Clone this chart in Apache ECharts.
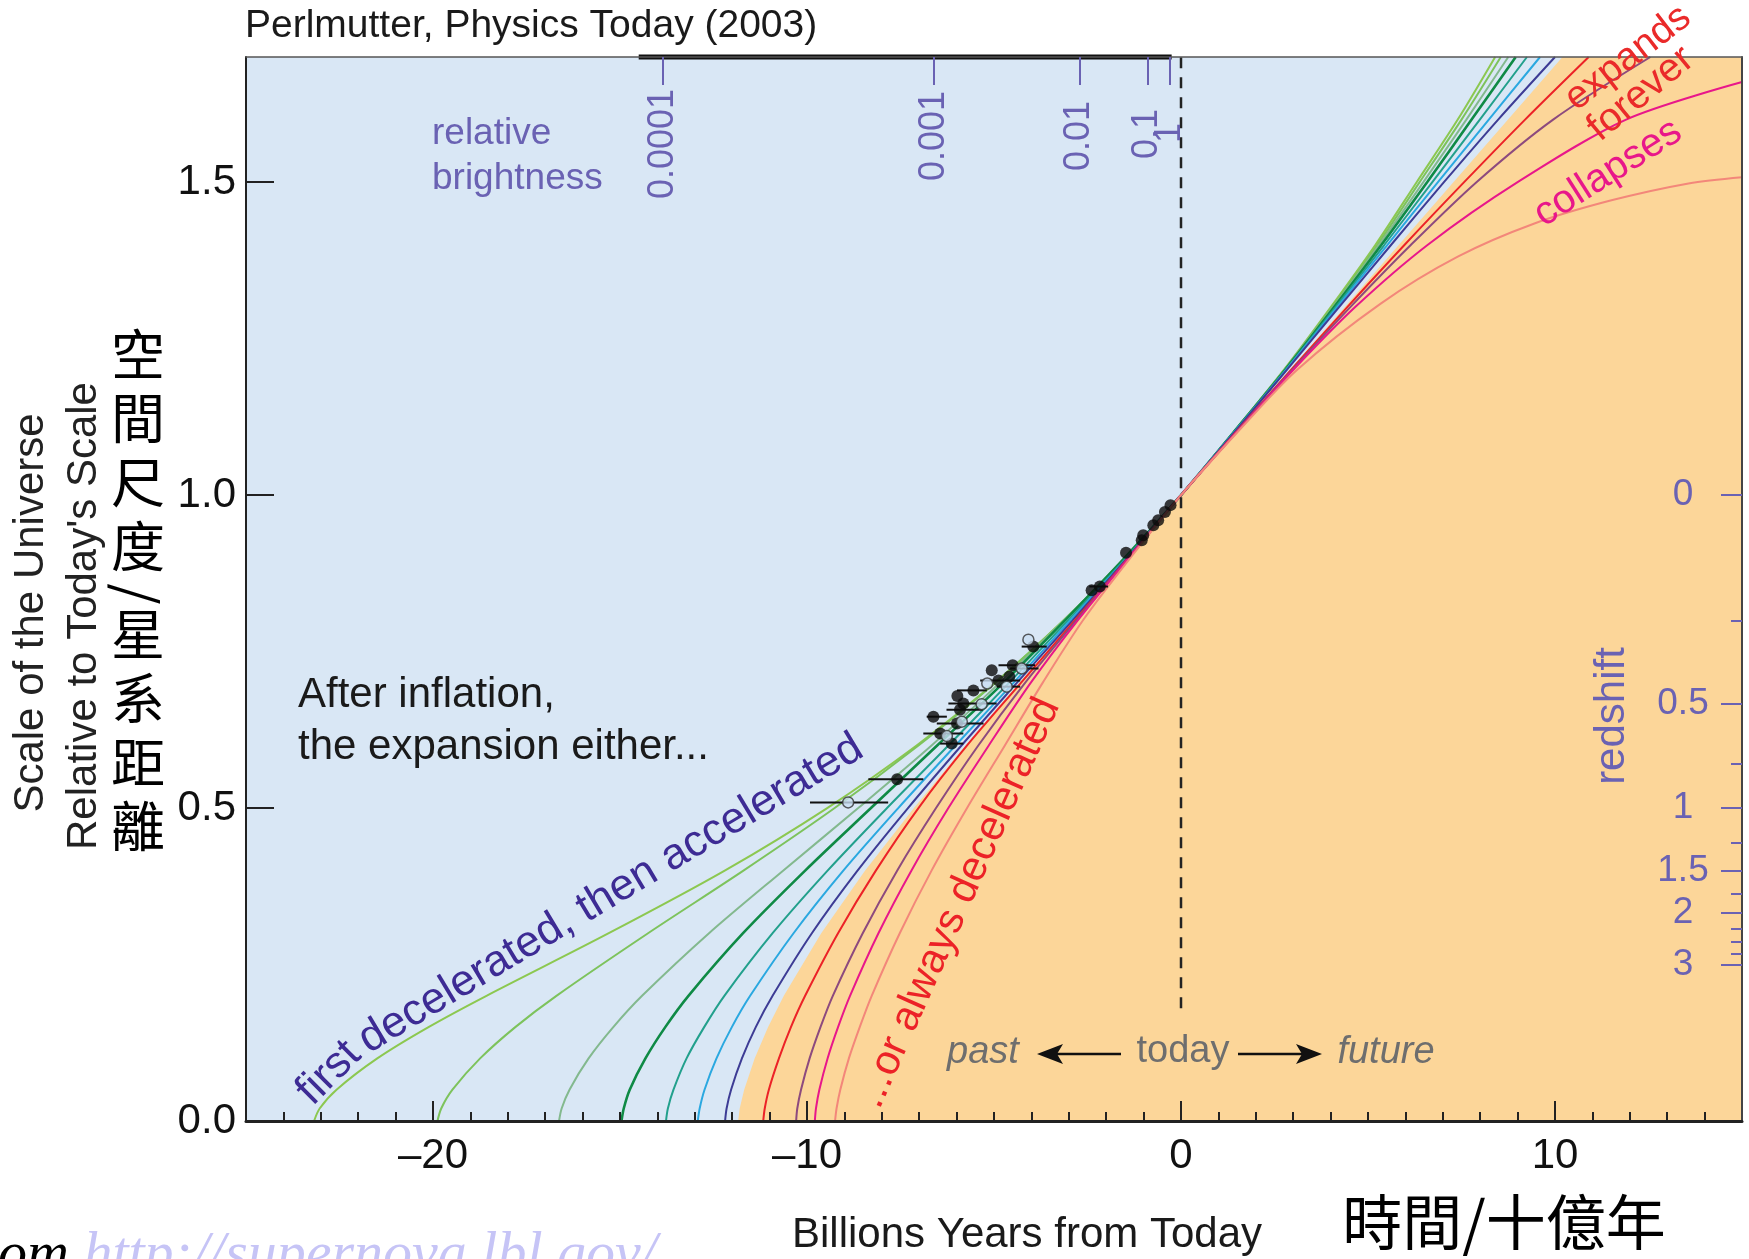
<!DOCTYPE html>
<html><head><meta charset="utf-8">
<script src="https://cdn.jsdelivr.net/npm/echarts@6.0.0/dist/echarts.min.js"></script>
<style>html,body{margin:0;padding:0;background:#fff}#c{width:1749px;height:1259px}</style>
</head><body><div id="c"></div>
<script>
// ---------- axis ticks / labels ----------
const xMajorTicks = [-20, -10, 0, 10];
const xMinorTicks = [-24,-23,-22,-21,-19,-18,-17,-16,-15,-14,-13,-12,-11,-9,-8,-7,-6,-5,-4,-3,-2,-1,1,2,3,4,5,6,7,8,9,11,12,13,14];
const yLabelTicks = [0, 0.5, 1.0, 1.5];
const yTickMarks = [0.5, 1.0, 1.5];
const brightnessLabels = ['0.0001', '0.001', '0.01', '0.1', '1'];
const brightnessTimes = [-13.85, -6.6, -2.72, -0.9, -0.3];
const redshiftMajor = [0, 0.5, 1, 1.5, 2, 3];
const redshiftMinor = [0.25, 0.75, 1.25, 1.75, 2.25, 2.5, 2.75];
const todayX = 0;
const todayLineY = [0.18, 1.7];
const topBarX = [-14.5, -0.25];

// ---------- expansion histories [years from today (Gyr), scale] ----------
const curveFirst = [[-23.18,0],[-23.03,0.02],[-22.58,0.05],[-21.49,0.1],[-20.12,0.15],[-18.57,0.2],[-15.30,0.3],[-12.20,0.4],[-9.46,0.5],[-7.07,0.6],[-4.98,0.7],[-3.13,0.8],[-1.48,0.9],[0,1],[1.40,1.1],[2.75,1.2],[4.00,1.3],[5.20,1.4],[6.30,1.5],[7.40,1.6],[8.40,1.7]];
const curveGreen = [[-19.88,0],[-19.78,0.02],[-19.48,0.05],[-18.74,0.1],[-17.80,0.15],[-16.70,0.2],[-14.25,0.3],[-11.70,0.4],[-9.26,0.5],[-7.02,0.6],[-4.97,0.7],[-3.14,0.8],[-1.49,0.9],[0,1],[1.40,1.1],[2.76,1.2],[4.03,1.3],[5.25,1.4],[6.38,1.5],[7.50,1.6],[8.55,1.7]];
const curvePale = [[-16.63,0],[-16.56,0.02],[-16.35,0.05],[-15.84,0.1],[-15.18,0.15],[-14.41,0.2],[-12.62,0.3],[-10.64,0.4],[-8.63,0.5],[-6.67,0.6],[-4.85,0.7],[-3.12,0.8],[-1.50,0.9],[0,1],[1.40,1.1],[2.77,1.2],[4.06,1.3],[5.30,1.4],[6.48,1.5],[7.63,1.6],[8.75,1.7]];
const curveDarkGreen = [[-14.96,0],[-14.90,0.02],[-14.74,0.05],[-14.32,0.1],[-13.79,0.15],[-13.17,0.2],[-11.71,0.3],[-10.05,0.4],[-8.29,0.5],[-6.52,0.6],[-4.75,0.7],[-3.10,0.8],[-1.50,0.9],[0,1],[1.40,1.1],[2.78,1.2],[4.09,1.3],[5.36,1.4],[6.58,1.5],[7.77,1.6],[8.95,1.7]];
const curveTeal = [[-13.77,0],[-13.72,0.02],[-13.57,0.05],[-13.22,0.1],[-12.75,0.15],[-12.21,0.2],[-10.92,0.3],[-9.45,0.4],[-7.86,0.5],[-6.22,0.6],[-4.60,0.7],[-3.02,0.8],[-1.46,0.9],[0,1],[1.41,1.1],[2.80,1.2],[4.13,1.3],[5.44,1.4],[6.72,1.5],[7.99,1.6],[9.25,1.7]];
const curveCyan = [[-12.92,0],[-12.87,0.02],[-12.74,0.05],[-12.42,0.1],[-12.01,0.15],[-11.52,0.2],[-10.36,0.3],[-9.03,0.4],[-7.56,0.5],[-6.03,0.6],[-4.48,0.7],[-2.96,0.8],[-1.44,0.9],[0,1],[1.41,1.1],[2.81,1.2],[4.17,1.3],[5.52,1.4],[6.87,1.5],[8.23,1.6],[9.60,1.7]];
const curveNavy = [[-12.19,0],[-12.15,0.02],[-12.03,0.05],[-11.74,0.1],[-11.37,0.15],[-10.92,0.2],[-9.87,0.3],[-8.65,0.4],[-7.30,0.5],[-5.87,0.6],[-4.39,0.7],[-2.90,0.8],[-1.43,0.9],[0,1],[1.42,1.1],[2.83,1.2],[4.22,1.3],[5.62,1.4],[7.03,1.5],[8.48,1.6],[10.0,1.7]];
const curveRed = [[-11.17,0],[-11.13,0.02],[-11.02,0.05],[-10.75,0.1],[-10.43,0.15],[-10.05,0.2],[-9.17,0.3],[-8.16,0.4],[-7.02,0.5],[-5.72,0.6],[-4.28,0.7],[-2.84,0.8],[-1.41,0.9],[0,1],[1.46,1.1],[2.94,1.2],[4.44,1.3],[5.98,1.4],[7.57,1.5],[9.20,1.6],[10.90,1.7]];
const curvePurple = [[-10.29,0],[-10.26,0.02],[-10.16,0.05],[-9.93,0.1],[-9.64,0.15],[-9.31,0.2],[-8.51,0.3],[-7.59,0.4],[-6.55,0.5],[-5.42,0.6],[-4.17,0.7],[-2.80,0.8],[-1.40,0.9],[0,1],[1.47,1.1],[2.97,1.2],[4.52,1.3],[6.15,1.4],[7.90,1.5],[9.95,1.6],[12.55,1.7]];
const curveMagenta = [[-9.79,0],[-9.76,0.02],[-9.67,0.05],[-9.45,0.1],[-9.17,0.15],[-8.85,0.2],[-8.09,0.3],[-7.21,0.4],[-6.22,0.5],[-5.14,0.6],[-4.02,0.7],[-2.76,0.8],[-1.39,0.9],[0,1],[1.48,1.1],[3.00,1.2],[4.65,1.3],[6.60,1.4],[9.00,1.5],[11.90,1.6],[15.0,1.66]];
const curveSalmon = [[-9.25,0],[-9.21,0.02],[-9.11,0.05],[-8.88,0.1],[-8.59,0.15],[-8.27,0.2],[-7.52,0.3],[-6.67,0.4],[-5.72,0.5],[-4.71,0.6],[-3.70,0.7],[-2.62,0.8],[-1.35,0.9],[0,1],[1.50,1.1],[3.10,1.2],[5.34,1.306],[7.40,1.381],[9.45,1.434],[11.51,1.471],[13.57,1.498],[15.0,1.508]];
const boundary = [[-11.84,0],[-11.80,0.02],[-11.68,0.05],[-11.40,0.1],[-11.04,0.15],[-10.62,0.2],[-9.62,0.3],[-8.45,0.4],[-7.14,0.5],[-5.76,0.6],[-4.33,0.7],[-2.87,0.8],[-1.42,0.9],[0,1],[10.2,1.7],[15,1.7]];

// ---------- supernovae [x, scale, xLow, xHigh] ----------
const snFilled = [[-0.28,0.984,-0.28,-0.28],[-0.43,0.973,-0.43,-0.43],[-0.61,0.960,-0.61,-0.61],[-0.74,0.952,-0.74,-0.74],[-1.01,0.936,-1.01,-1.01],[-1.05,0.928,-1.05,-1.05],[-1.47,0.908,-1.47,-1.47],[-2.17,0.854,-2.45,-1.95],[-2.39,0.848,-2.39,-2.39],[-3.95,0.758,-4.26,-3.59],[-4.50,0.728,-4.88,-3.90],[-5.06,0.720,-5.06,-5.06],[-4.88,0.704,-5.37,-4.30],[-4.59,0.710,-4.59,-4.59],[-5.55,0.688,-5.99,-5.19],[-5.98,0.679,-5.98,-5.98],[-5.82,0.667,-6.22,-4.93],[-5.91,0.657,-6.27,-5.30],[-6.62,0.646,-6.80,-6.26],[-5.99,0.635,-6.53,-5.28],[-6.44,0.619,-6.89,-5.82],[-6.13,0.603,-6.44,-5.82],[-7.59,0.546,-8.36,-6.89]];
const snOpen = [[-4.08,0.769,-4.08,-4.08],[-4.26,0.723,-4.57,-3.81],[-5.18,0.699,-5.18,-5.18],[-4.66,0.694,-4.93,-4.30],[-5.33,0.666,-5.33,-5.33],[-5.86,0.638,-5.86,-5.86],[-6.26,0.615,-6.26,-6.26],[-8.90,0.509,-9.92,-7.83]];

const FONT = "'Liberation Sans', Arial, Helvetica, sans-serif";
const PURPLE = '#6a62b3';

const curves = [
  {d: curveFirst, c: '#8cc850', w: 2},
  {d: curveGreen, c: '#7dc35c', w: 2},
  {d: curvePale, c: '#83b98e', w: 2},
  {d: curveDarkGreen, c: '#0f8a45', w: 2.6},
  {d: curveTeal, c: '#22a08c', w: 2},
  {d: curveCyan, c: '#2aa8e0', w: 2},
  {d: curveNavy, c: '#3d3c95', w: 2},
  {d: curveRed, c: '#ec2227', w: 2},
  {d: curvePurple, c: '#8d4a7e', w: 2},
  {d: curveMagenta, c: '#e8178a', w: 2},
  {d: curveSalmon, c: '#f3877a', w: 2}
];

const chart = echarts.init(document.getElementById('c'), null, {renderer: 'canvas', width: 1749, height: 1259});

const series = [];
series.push({type: 'line', data: boundary, symbol: 'none', lineStyle: {width: 0}, areaStyle: {color: '#fcd699', opacity: 1, origin: 'start'}, z: 1, silent: true});
curves.forEach(cv => series.push({type: 'line', data: cv.d, symbol: 'none', smooth: 0.3, lineStyle: {color: cv.c, width: cv.w}, z: 3, silent: true}));
series.push({type: 'line', data: [[todayX, todayLineY[0]], [todayX, todayLineY[1]]], symbol: 'none', lineStyle: {color: '#222', width: 2.5, type: [11, 9]}, z: 4});
series.push({type: 'line', data: [[topBarX[0], 1.7], [topBarX[1], 1.7]], symbol: 'none', clip: false, lineStyle: {color: '#111', width: 5}, z: 8});
series.push({type: 'custom', data: snFilled.concat(snOpen), z: 5, encode: {x: 0, y: 1},
  renderItem: function (params, api) {
    const y = api.value(1);
    const p1 = api.coord([api.value(2), y]);
    const p2 = api.coord([api.value(3), y]);
    return {type: 'line', shape: {x1: p1[0], y1: p1[1], x2: p2[0], y2: p2[1]}, style: {stroke: '#111', lineWidth: 2}};
  }});
series.push({type: 'scatter', data: snFilled.map(p => [p[0], p[1]]), symbolSize: 12, itemStyle: {color: '#0a0a0a'}, z: 6});
series.push({type: 'scatter', data: snOpen.map(p => [p[0], p[1]]), symbolSize: 11, itemStyle: {color: '#c9def2', borderColor: '#333', borderWidth: 1.5}, z: 6});

function zOf(v) { let best = 0, bd = 1e9; redshiftMajor.forEach(z => { const d = Math.abs(1 / (1 + z) - v); if (d < bd) { bd = d; best = z; } }); return best; }

function txt(text, x, y, opt) {
  return {type: 'text', x: x, y: y, rotation: (opt.rot || 0) * Math.PI / 180, z: 100,
    style: {text: text, fill: opt.color || '#111', font: (opt.style || 'normal') + ' ' + (opt.size || 42) + 'px ' + (opt.family || FONT),
      align: opt.align || 'left', verticalAlign: 'middle'}};
}

const graphics = [
  txt('Perlmutter, Physics Today (2003)', 245, 26, {size: 39, color: '#1a1a1a'}),
  txt('relative', 432, 134, {size: 37, color: PURPLE}),
  txt('brightness', 432, 179, {size: 37, color: PURPLE}),
  txt('After inflation,', 298, 695, {size: 42, color: '#1a1a1a'}),
  txt('the expansion either...', 298, 747, {size: 42, color: '#1a1a1a'}),
  txt('first', 329, 1073, {size: 44, color: '#3d2b94', rot: 45, align: 'center'}),
  txt('decelerated, then accelerated', 611, 894, {size: 44, color: '#3d2b94', rot: 31, align: 'center'}),
  txt('...or always decelerated', 959, 903, {size: 42, color: '#ec2227', rot: 66, align: 'center'}),
  txt('expands', 1628, 58, {size: 39, color: '#ea2a2a', rot: 37.6, align: 'center'}),
  txt('forever', 1641, 94, {size: 40, color: '#ea2a2a', rot: 39.6, align: 'center'}),
  txt('collapses', 1608, 173, {size: 40, color: '#e8178a', rot: 32.6, align: 'center'}),
  txt('past', 983, 1052, {size: 38, color: '#6e6e6e', style: 'italic', align: 'center'}),
  txt('today', 1183, 1052, {size: 38, color: '#6e6e6e', align: 'center'}),
  txt('future', 1386, 1052, {size: 38, color: '#6e6e6e', style: 'italic', align: 'center'}),
  txt('redshift', 1612, 716, {size: 42, color: PURPLE, rot: 90, align: 'center'}),
  txt('Scale of the Universe', 31, 613, {size: 42, color: '#222', rot: 90, align: 'center'}),
  txt("Relative to Today's Scale", 84, 616, {size: 42, color: '#222', rot: 90, align: 'center'}),
  txt('Billions Years from Today', 1027, 1235, {size: 42, color: '#1a1a1a', align: 'center'}),
  {type: 'text', x: 138, y: 322, z: 100, style: {text: '空\n間\n尺\n度', fill: '#000', font: "normal 54px 'Noto Sans CJK TC'", lineHeight: 64, align: 'center', verticalAlign: 'top'}},
  {type: 'text', x: 138, y: 594, rotation: -Math.PI / 2, z: 100, style: {text: '/', fill: '#000', font: "normal 54px 'Noto Sans CJK TC'", align: 'center', verticalAlign: 'middle'}},
  {type: 'text', x: 138, y: 602, z: 100, style: {text: '星\n系\n距\n離', fill: '#000', font: "normal 54px 'Noto Sans CJK TC'", lineHeight: 64, align: 'center', verticalAlign: 'top'}},
  {type: 'text', x: 1504, y: 1222, z: 100, style: {text: '時間/十億年', fill: '#000', font: "normal 60px 'Noto Sans CJK TC'", align: 'center', verticalAlign: 'middle'}},
  {type: 'text', x: -2, y: 1256, z: 100, style: {text: '{a|om} {b|http://supernova.lbl.gov/}', font: "italic 58px 'Liberation Serif'", verticalAlign: 'middle',
    rich: {a: {fill: '#000', font: "italic 58px 'Liberation Serif'"}, b: {fill: '#c6c4f6', font: "italic 58px 'Liberation Serif'"}}}},
  // arrows
  {type: 'line', z: 100, shape: {x1: 1121, y1: 1054, x2: 1050, y2: 1054}, style: {stroke: '#111', lineWidth: 2.5}},
  {type: 'polygon', z: 100, shape: {points: [[1037, 1054], [1063, 1044], [1057, 1054], [1063, 1064]]}, style: {fill: '#111'}},
  {type: 'line', z: 100, shape: {x1: 1238, y1: 1054, x2: 1309, y2: 1054}, style: {stroke: '#111', lineWidth: 2.5}},
  {type: 'polygon', z: 100, shape: {points: [[1322, 1054], [1296, 1044], [1302, 1054], [1296, 1064]]}, style: {fill: '#111'}}
];

// one top axis per brightness tick, so no label hides another
const brightnessMargins = [87, 79, 79, 77, 76];
const topAxes = brightnessTimes.map((t, i) => ({
  type: 'value', min: -25, max: 15, position: 'top', z: 10,
  axisLine: {show: i === 0, onZero: false, lineStyle: {color: '#555', width: 1.5}},
  axisTick: {show: true, inside: true, length: 28, customValues: [t], lineStyle: {color: PURPLE, width: 2}},
  axisLabel: {show: true, inside: true, rotate: -90, align: 'center', margin: brightnessMargins[i], customValues: [t], fontSize: 36, fontFamily: FONT, color: PURPLE,
    hideOverlap: false, formatter: () => brightnessLabels[i]},
  splitLine: {show: false}
}));

const option = {
  animation: false,
  backgroundColor: '#ffffff',
  grid: {left: 246, right: 7, top: 57, bottom: 138, show: true, backgroundColor: '#d9e7f5', borderWidth: 0},
  xAxis: [
    {type: 'value', min: -25, max: 15, position: 'bottom', z: 10,
      axisLine: {show: true, onZero: false, lineStyle: {color: '#222', width: 3}},
      axisTick: {show: true, inside: true, length: 20, customValues: xMajorTicks, lineStyle: {color: '#222', width: 2}},
      axisLabel: {show: true, customValues: xMajorTicks, margin: 14, fontSize: 42, fontFamily: FONT, color: '#111',
        formatter: v => (v < 0 ? '\u2013' + Math.abs(v) : String(v))},
      splitLine: {show: false}},
    {type: 'value', min: -25, max: 15, position: 'bottom', z: 10,
      axisLine: {show: false, onZero: false}, axisLabel: {show: false}, splitLine: {show: false},
      axisTick: {show: true, inside: true, length: 9, customValues: xMinorTicks, lineStyle: {color: '#222', width: 2}}}
  ].concat(topAxes),
  yAxis: [
    {type: 'value', min: 0, max: 1.7, position: 'left', z: 10,
      axisLine: {show: true, onZero: false, lineStyle: {color: '#222', width: 2}},
      axisTick: {show: true, inside: true, length: 28, customValues: yTickMarks, lineStyle: {color: '#222', width: 2}},
      axisLabel: {show: true, customValues: yLabelTicks, margin: 10, fontSize: 42, fontFamily: FONT, color: '#111', formatter: v => v.toFixed(1)},
      splitLine: {show: false}},
    {type: 'value', min: 0, max: 1.7, position: 'right', z: 10,
      axisLine: {show: true, onZero: false, lineStyle: {color: '#444', width: 2}},
      axisTick: {show: true, inside: true, length: 21, customValues: redshiftMajor.map(z => 1 / (1 + z)), lineStyle: {color: PURPLE, width: 2}},
      axisLabel: {show: true, inside: true, align: 'center', margin: 59, customValues: redshiftMajor.map(z => 1 / (1 + z)), fontSize: 37, fontFamily: FONT, color: PURPLE,
        hideOverlap: false, formatter: v => String(zOf(v))},
      splitLine: {show: false}},
    {type: 'value', min: 0, max: 1.7, position: 'right', z: 10,
      axisLine: {show: false, onZero: false}, axisLabel: {show: false}, splitLine: {show: false},
      axisTick: {show: true, inside: true, length: 11, customValues: redshiftMinor.map(z => 1 / (1 + z)), lineStyle: {color: PURPLE, width: 2}}}
  ],
  series: series,
  graphic: graphics
};
chart.setOption(option);
</script>
</body></html>
